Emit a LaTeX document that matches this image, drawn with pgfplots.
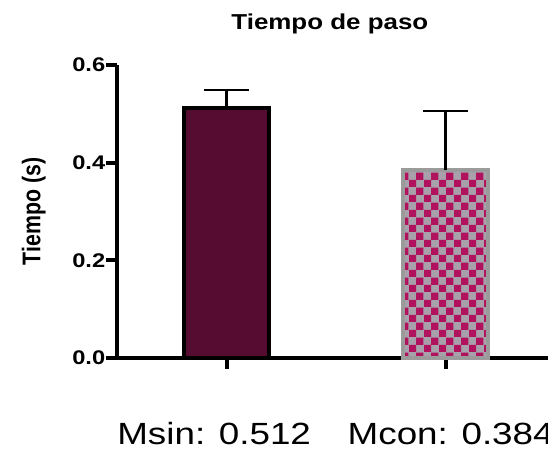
\documentclass[border=0pt]{standalone}
\usepackage{pgfplots}
\pgfplotsset{compat=1.18}
\usetikzlibrary{patterns}
\usepackage{fontspec}
\setmainfont{Liberation Sans}
\definecolor{maroon}{RGB}{86,12,48}
\definecolor{checkmag}{RGB}{176,18,94}
\definecolor{checkgray}{RGB}{168,160,170}
\definecolor{bordergray}{RGB}{155,155,155}
\begin{document}
\begin{tikzpicture}
\path[use as bounding box] (0pt,0pt) rectangle (411pt,343.5pt);
\clip (0pt,0pt) rectangle (411pt,343.5pt);
\begin{axis}[
  at={(87.75pt,75pt)}, anchor=south west,
  scale only axis, width=328.5pt, height=219.75pt,
  xmin=-0.5, xmax=1.5, ymin=0, ymax=0.6,
  axis x line=bottom, axis y line=left,
  axis line style={line width=3pt, -, black},
  xtick={0,1}, xticklabels={},
  ytick={0,0.2,0.4,0.6},
  tick align=outside,
  major tick length=8pt,
  every tick/.style={black, line width=3pt},
  yticklabel style={font=\fontsize{14.8}{16}\selectfont\bfseries, xscale=1.2, inner xsep=0.5pt, /pgf/number format/.cd, fixed, fixed zerofill, precision=1},
  /pgf/number format/assume math mode=true,
  ylabel={Tiempo (s)},
  ylabel style={at={(rel axis cs:-0.19,0.5)}, anchor=center, font=\fontsize{16}{18}\selectfont\bfseries, yscale=1.2},
  title={Tiempo de paso},
  title style={at={(rel axis cs:0.486,1.122)}, anchor=base, yshift=-6pt, font=\fontsize{16.2}{18}\selectfont\bfseries, xscale=1.2},
  xlabel={Msin: 0.512\hspace{23pt}Mcon: 0.384},
  xlabel style={at={(rel axis cs:0,-0.2935)}, anchor=base west, inner sep=0pt, font=\fontsize{23}{26}\selectfont, xscale=1.2},
  clip=false,
]
\addplot[ybar, bar width=0.39, bar shift=0pt, fill=maroon, draw=black, line width=3pt,
  error bars/.cd, y dir=plus, y explicit,
  error bar style={line width=2pt, black},
  error mark options={rotate=90, mark size=17pt, line width=2pt, black}]
  coordinates {(0,0.512) +- (0,0.037)};
\addplot[ybar, bar width=0.39, bar shift=0pt, fill=checkgray, draw=bordergray, line width=3pt,
  postaction={pattern=checkerboard, pattern color=checkmag},
  error bars/.cd, y dir=plus, y explicit,
  error bar style={line width=2pt, black},
  error mark options={rotate=90, mark size=17pt, line width=2pt, black}]
  coordinates {(1,0.384) +- (0,0.122)};
\end{axis}
\end{tikzpicture}
\end{document}
